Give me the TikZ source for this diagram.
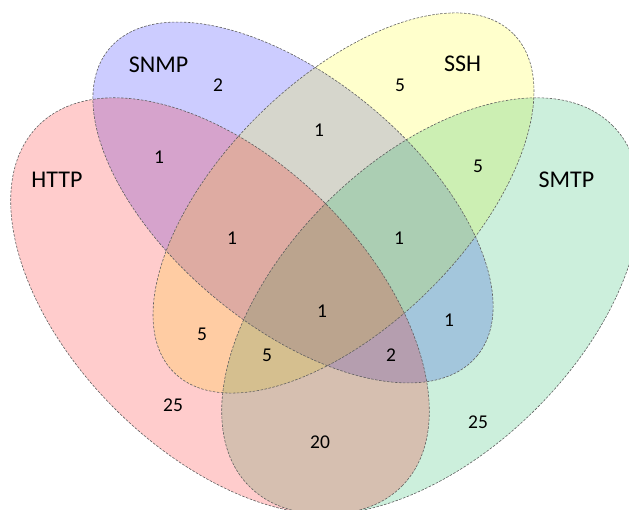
\documentclass[tikz,border=0pt]{standalone}
\usepackage{fontspec}
\setmainfont{Carlito}
\definecolor{httpc}{RGB}{255,0,0}
\definecolor{snmpc}{RGB}{0,0,255}
\definecolor{sshc}{RGB}{255,255,0}
\definecolor{smtpc}{RGB}{0,176,80}
\definecolor{edgec}{RGB}{95,95,95}
\begin{document}
\begin{tikzpicture}[x=1pt,y=1pt,
  setfill/.style={fill opacity=0.2},
  setline/.style={draw=edgec, line width=0.6pt, dash pattern=on 2.5pt off 1.5pt},
  lab/.style={font=\fontsize{24}{28}\selectfont, inner sep=0pt},
  num/.style={font=\fontsize{19.5}{23}\selectfont, inner sep=0pt}]
\useasboundingbox (0,0) rectangle (629,-510);
\clip (0,0) rectangle (629,-510);
% fills (order matters for blending)
\fill[snmpc, setfill, rotate around={-39.9:(293,-202.5)}] (293,-202.5) ellipse [x radius=239.6, y radius=123.2];
\fill[sshc, setfill, rotate around={44.9:(343.5,-203)}] (343.5,-203) ellipse [x radius=239.7, y radius=122.2];
\fill[smtpc, setfill, rotate around={44.7:(431,-306)}] (431,-306) ellipse [x radius=256, y radius=147];
\fill[httpc, setfill, rotate around={-44.7:(220,-306)}] (220,-306) ellipse [x radius=256, y radius=147];
% outlines
\draw[setline, rotate around={-39.9:(293,-202.5)}] (293,-202.5) ellipse [x radius=239.6, y radius=123.2];
\draw[setline, rotate around={44.9:(343.5,-203)}] (343.5,-203) ellipse [x radius=239.7, y radius=122.2];
\draw[setline, rotate around={44.7:(431,-306)}] (431,-306) ellipse [x radius=256, y radius=147];
\draw[setline, rotate around={-44.7:(220,-306)}] (220,-306) ellipse [x radius=256, y radius=147];
% set labels
\node[lab] (lsnmp) at (158.5,-64.5) {SNMP};
\node[lab] (lssh) at (462.5,-63.5) {SSH};
\node[lab] (lhttp) at (57,-180) {HTTP};
\node[lab] (lsmtp) at (566.5,-180) {SMTP};
% counts
\node[num] (nN) at (218,-85) {2};
\node[num] (nS) at (400,-85) {5};
\node[num] (nHN) at (159,-157) {1};
\node[num] (nNS) at (319,-130) {1};
\node[num] (nSM) at (478,-166) {5};
\node[num] (nHNS) at (232,-238) {1};
\node[num] (nNSM) at (399,-238) {1};
\node[num] (nAll) at (322,-311) {1};
\node[num] (nHS) at (202,-334) {5};
\node[num] (nHSM) at (267,-355) {5};
\node[num] (nHNM) at (391,-355) {2};
\node[num] (nNM) at (449,-320) {1};
\node[num] (nH) at (173,-405) {25};
\node[num] (nHM) at (320,-442) {20};
\node[num] (nM) at (478,-422) {25};
\end{tikzpicture}
\end{document}
